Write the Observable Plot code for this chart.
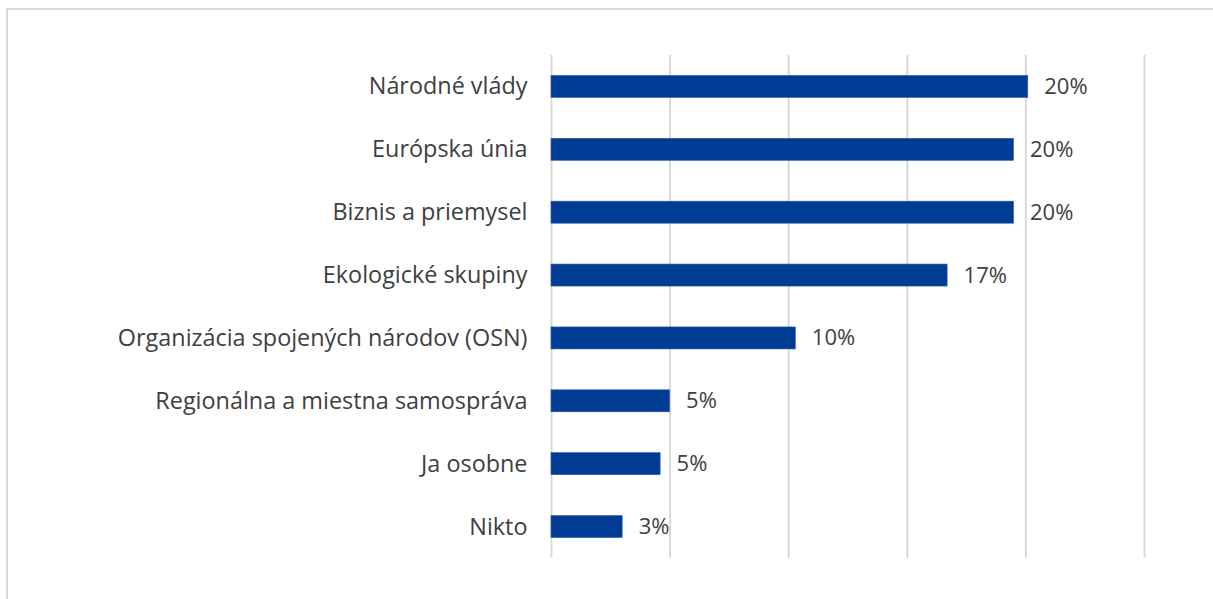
<!DOCTYPE html>
<html>
<head>
<meta charset="utf-8">
<script src="https://cdn.jsdelivr.net/npm/d3@7"></script>
<script src="https://cdn.jsdelivr.net/npm/@observablehq/plot@0.6"></script>
<style>
  html, body { margin: 0; padding: 0; background: #fff; overflow: hidden; }
  #wrap { position: relative; width: 1213px; height: 599px; }
  #frame { position: absolute; left: 6px; top: 8px; width: 1400px; height: 800px;
           border-left: 2px solid #d9d9d9; border-top: 2px solid #d9d9d9; }
  #chart { position: absolute; left: 0; top: 0; }
</style>
</head>
<body>
<div id="wrap"><div id="frame"></div><div id="chart"></div></div>
<script>
const categories = [
  "Národné vlády",
  "Európska únia",
  "Biznis a priemysel",
  "Ekologické skupiny",
  "Organizácia spojených národov (OSN)",
  "Regionálna a miestna samospráva",
  "Ja osobne",
  "Nikto"
];
const values = [20.1, 19.5, 19.5, 16.7, 10.3, 5.0, 4.6, 3.0];
const gridTicks = [0, 5, 10, 15, 20, 25];

const data = categories.map((c, i) => ({category: c, value: values[i]}));

const chart = Plot.plot({
  width: 1213,
  height: 599,
  marginLeft: 551,
  marginRight: 69,
  marginTop: 55,
  marginBottom: 41,
  style: {fontFamily: "'Open Sans', sans-serif", color: "#404040", background: "transparent"},
  x: {domain: [0, 25], axis: null},
  y: {domain: categories, paddingInner: 0.65, paddingOuter: 0.325, round: false, label: null},
  marks: [
    Plot.ruleX(gridTicks, {stroke: "#d9d9d9", strokeWidth: 2}),
    Plot.barX(data, {x1: 0, x2: "value", y: "category", fill: "#003c94", stroke: "#2f5ba8", strokeWidth: 0.6}),
    Plot.text(data, {x: "value", y: "category", text: d => Math.round(d.value) + "%",
      dx: 16, textAnchor: "start", fontSize: 22, fill: "#404040"}),
    Plot.axisY({tickSize: 0, tickPadding: 24, fontSize: 23.4, label: null, fill: "#404040"})
  ]
});
document.getElementById("chart").appendChild(chart);
</script>
</body>
</html>
